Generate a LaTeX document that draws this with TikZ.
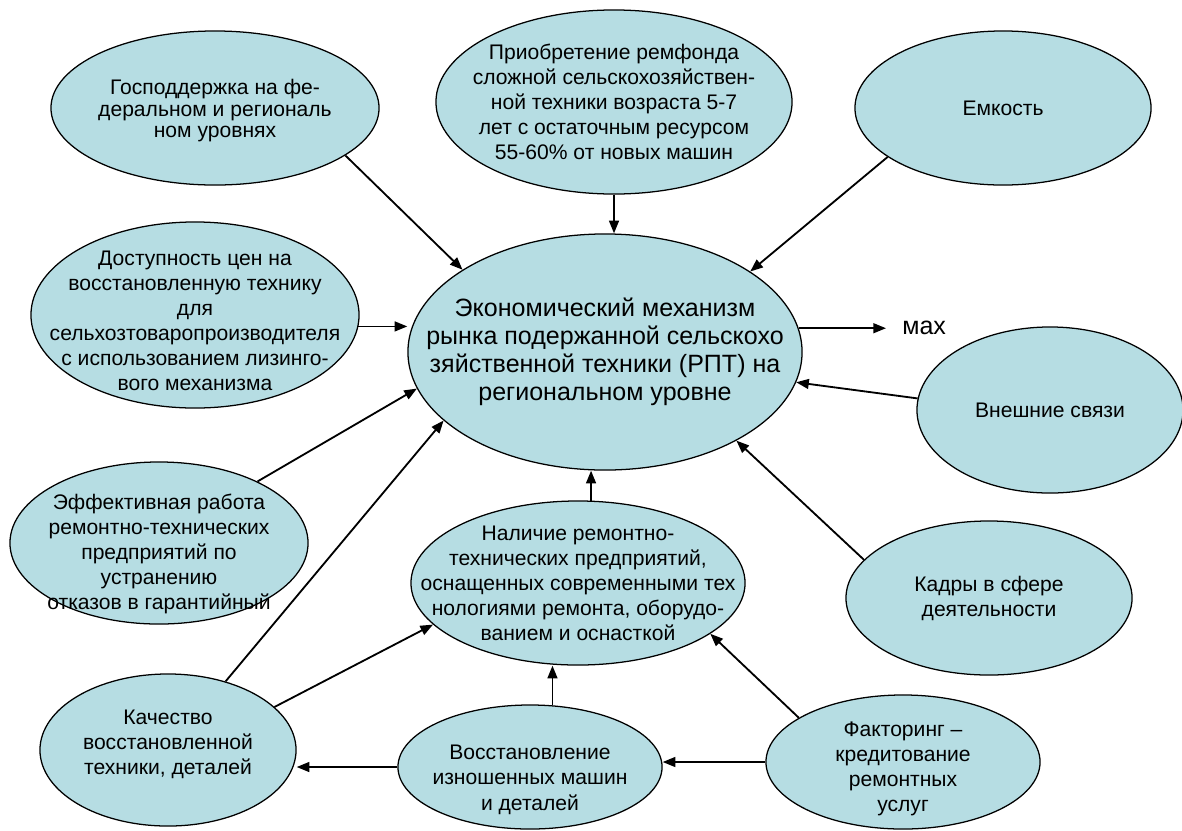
\documentclass[tikz,border=0pt]{standalone}
\usepackage{fontspec}
\setmainfont{Liberation Sans}
\usetikzlibrary{shapes.geometric, arrows.meta}
\definecolor{ellfill}{RGB}{182,221,227}

\begin{document}
\begin{tikzpicture}[
    x=0.025cm, y=-0.025cm,
    factor/.style 2 args={draw, ellipse, fill=ellfill, line width=0.9pt, inner sep=0pt,
        minimum width=#1*0.05cm, minimum height=#2*0.05cm},
    txt/.style={align=center, font=\fontsize{15}{17.8}\selectfont, inner sep=0pt},
    big/.style={align=center, font=\fontsize{17.8}{19.9}\selectfont, inner sep=0pt},
    arrow/.style={-{Triangle[length=9pt, width=7pt]}, line width=1.3pt}
]
    \useasboundingbox (0,0) rectangle (1182,830);

    \node[factor={164}{77}, label={[txt, font=\fontsize{15}{15.4}\selectfont, yshift=-0.07cm]center:{Господдержка на фе-\\деральном и региональ\\ном уровнях}}] (gos) at (215,108) {};
    \node[factor={178}{92}, label={[txt]center:{Приобретение ремфонда\\сложной сельскохозяйствен-\\ной техники возраста 5-7\\лет с остаточным ресурсом\\55-60\% от новых машин}}] (remfond) at (614,102) {};
    \node[factor={148}{77}, label={[txt]center:{Емкость}}] (emk) at (1003,108) {};
    \node[factor={164}{93}, label={[txt, yshift=-0.14cm]center:{Доступность цен на\\восстановленную технику\\для\\сельхозтоваропроизводителя\\с использованием лизинго-\\вого механизма}}] (dost) at (195,315) {};
    \node[factor={197}{118}, label={[big]center:{Экономический механизм\\рынка подержанной сельскохо\\зяйственной техники (РПТ) на\\региональном уровне}}] (econ) at (605,352) {};
    \node[big, anchor=west] (maxtxt) at (902,328) {мах};
    \node[factor={133}{83}, label={[txt]center:{Внешние связи}}] (vnesh) at (1050,410) {};
    \node[factor={149}{81}, label={[txt, yshift=-0.28cm]center:{Эффективная работа\\ремонтно-технических\\предприятий по\\устранению\\отказов в гарантийный}}] (eff) at (159,543) {};
    \node[factor={167}{82}, label={[txt]center:{Наличие ремонтно-\\технических предприятий,\\оснащенных современными тех\\нологиями ремонта, оборудо-\\ванием и оснасткой}}] (nal) at (578,583) {};
    \node[factor={143}{77}, label={[txt]center:{Кадры в сфере\\деятельности}}] (kadry) at (989,598) {};
    \node[factor={128}{76}, label={[txt, yshift=0.15cm]center:{Качество\\восстановленной\\техники, деталей}}] (kach) at (168,750) {};
    \node[factor={132}{62}, label={[txt, yshift=-0.32cm]center:{Восстановление\\изношенных машин\\и деталей}}] (vosst) at (530,767) {};
    \node[factor={137}{67}, label={[txt, yshift=-0.17cm]center:{Факторинг –\\кредитование\\ремонтных\\услуг}}] (faktor) at (903,762) {};

    \draw[arrow] (gos.-20) -- (econ.150);
    \draw[arrow] (remfond.south) -- (remfond.south |- econ.north);
    \draw[arrow] (emk.-157) -- (econ.29);
    \draw[arrow] (dost.-4) -- (dost.-4 -| econ.west);
    \draw[arrow, shorten >=0.4cm] (econ.7) -- (econ.7 -| maxtxt.west);
    \draw[arrow] (vnesh.175) -- (econ.-9);
    \draw[arrow] (kadry.163) -- (econ.-34);
    \draw[arrow] (nal.81) -- (nal.81 |- econ.south);
    \draw[arrow] (eff.32) -- (econ.191);
    \draw[arrow] (kach.50) -- (econ.203);
    \draw[arrow] (kach.22) -- (nal.196);
    \draw[arrow] (vosst.70) -- (vosst.70 |- nal.south);
    \draw[arrow] (vosst.west) -- (vosst.west -| kach.east);
    \draw[arrow] (faktor.west) -- (faktor.west -| vosst.east);
    \draw[arrow] (faktor.157) -- (nal.-21);
\end{tikzpicture}
\end{document}
